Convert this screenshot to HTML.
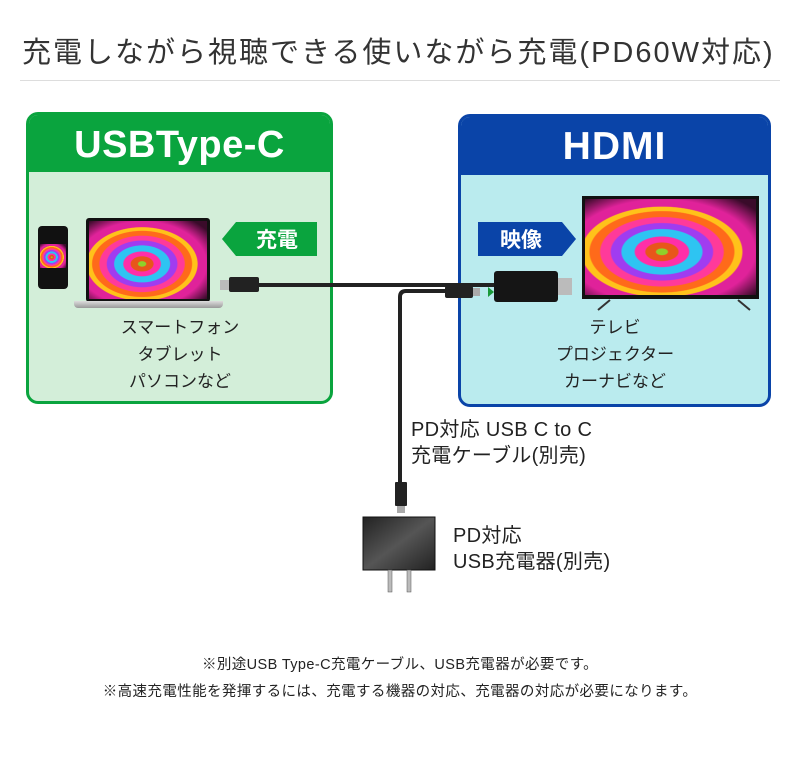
<!DOCTYPE html>
<html><head><meta charset="utf-8"><style>
*{margin:0;padding:0;box-sizing:border-box}
body{width:800px;height:760px;background:#fff;position:relative;overflow:hidden;font-family:"Liberation Sans","Noto Sans CJK JP",sans-serif;color:#222}
.a{position:absolute}
.flower{background:radial-gradient(ellipse at 45% 55%,#8fd12a 0 4%,#e8561a 5% 12%,#ff2fa8 13% 20%,#2ec4f2 21% 30%,#a03cf0 31% 38%,#ff3a9a 39% 46%,#ff6a1a 47% 54%,#ffc21a 55% 60%,#e0229a 61% 70%,#3a0b2a 90%)}
.t{text-align:center;font-size:17px;line-height:27px;font-weight:normal}
</style></head><body>
<div class="a" style="left:22px;top:29px;font-size:29px;color:#333;letter-spacing:2px;white-space:nowrap">充電しながら視聴できる使いながら充電(PD60W対応)</div>
<div class="a" style="left:20px;top:80px;width:760px;height:1px;background:#ddd"></div>

<div class="a" style="left:26px;top:112px;width:307px;height:292px;border:3px solid #0aa43e;border-radius:12px;background:#d3eed9;overflow:hidden">
  <div style="height:57px;background:#0aa43e;color:#fff;font-size:38px;font-weight:bold;text-align:center;line-height:60px;letter-spacing:0.5px">USBType-C</div>
</div>
<div class="a" style="left:458px;top:114px;width:313px;height:293px;border:3px solid #0a44a8;border-radius:12px;background:#baebee;overflow:hidden">
  <div style="height:58px;background:#0a44a8;color:#fff;font-size:39px;font-weight:bold;text-align:center;line-height:60px;letter-spacing:1px">HDMI</div>
</div>

<div class="a" style="left:38px;top:226px;width:30px;height:63px;background:#111;border-radius:4px"></div>
<div class="a flower" style="left:40px;top:244px;width:26px;height:24px"></div>
<div class="a" style="left:86px;top:218px;width:124px;height:84px;background:#111;border-radius:3px"></div>
<div class="a flower" style="left:89px;top:221px;width:118px;height:78px"></div>
<div class="a" style="left:74px;top:301px;width:149px;height:7px;background:linear-gradient(#ddd,#999);border-radius:0 0 4px 4px"></div>

<svg class="a" style="left:222px;top:222px" width="95" height="34"><polygon points="14,0 95,0 95,34 14,34 0,17" fill="#0aa43e"/><text x="55" y="25" fill="#fff" font-size="21" font-weight="bold" text-anchor="middle" font-family="Noto Sans CJK JP,sans-serif">充電</text></svg>
<svg class="a" style="left:478px;top:222px" width="98" height="34"><polygon points="0,0 84,0 98,17 84,34 0,34" fill="#0a44a8"/><text x="43" y="25" fill="#fff" font-size="21" font-weight="bold" text-anchor="middle" font-family="Noto Sans CJK JP,sans-serif">映像</text></svg>

<div class="a" style="left:582px;top:196px;width:177px;height:103px;background:#111"></div>
<div class="a flower" style="left:585px;top:199px;width:171px;height:96px"></div>
<svg class="a" style="left:590px;top:298px" width="170" height="14"><line x1="8" y1="12" x2="20" y2="2" stroke="#333" stroke-width="2"/><line x1="160" y1="12" x2="148" y2="2" stroke="#333" stroke-width="2"/></svg>

<svg class="a" style="left:0;top:0" width="800" height="760">
  <rect x="220" y="280" width="10" height="10" fill="#bbb"/>
  <rect x="229" y="277" width="30" height="15" rx="2" fill="#222"/>
  <line x1="258" y1="285" x2="496" y2="285" stroke="#222" stroke-width="4"/>
  <path d="M455 291 H406 Q400 291 400 297 V486" fill="none" stroke="#222" stroke-width="4"/>
  <rect x="445" y="286" width="28" height="12" rx="2" fill="#222"/>
  <rect x="473" y="288" width="7" height="8" fill="#aaa"/>
  <polygon points="488,287 494,292 488,297" fill="#1a9a3a"/>
  <rect x="494" y="271" width="64" height="31" rx="3" fill="#151515"/>
  <rect x="558" y="278" width="14" height="17" fill="#bbb"/>
  <rect x="395" y="482" width="12" height="24" rx="1" fill="#222"/>
  <rect x="397" y="506" width="8" height="7" fill="#aaa"/>
  <defs><linearGradient id="g" x1="0" y1="0" x2="1" y2="1"><stop offset="0" stop-color="#222"/><stop offset=".5" stop-color="#555"/><stop offset="1" stop-color="#222"/></linearGradient></defs>
  <rect x="363" y="517" width="72" height="53" fill="url(#g)" stroke="#111"/>
  <rect x="388" y="570" width="4" height="22" fill="#bbb" stroke="#555" stroke-width=".5"/>
  <rect x="407" y="570" width="4" height="22" fill="#bbb" stroke="#555" stroke-width=".5"/>
</svg>

<div class="a t" style="left:80px;top:314px;width:200px">スマートフォン<br>タブレット<br>パソコンなど</div>
<div class="a t" style="left:515px;top:314px;width:200px">テレビ<br>プロジェクター<br>カーナビなど</div>
<div class="a" style="left:411px;top:417px;font-size:20px;line-height:26px;letter-spacing:0.3px;white-space:nowrap">PD対応 USB C to C<br>充電ケーブル(別売)</div>
<div class="a" style="left:453px;top:523px;font-size:20px;line-height:26px;letter-spacing:0.3px;white-space:nowrap">PD対応<br>USB充電器(別売)</div>
<div class="a" style="left:0;top:652px;width:800px;text-align:center;font-size:14.5px;line-height:27px;letter-spacing:0.4px">※別途USB Type-C充電ケーブル、USB充電器が必要です。<br>※高速充電性能を発揮するには、充電する機器の対応、充電器の対応が必要になります。</div>
</body></html>
